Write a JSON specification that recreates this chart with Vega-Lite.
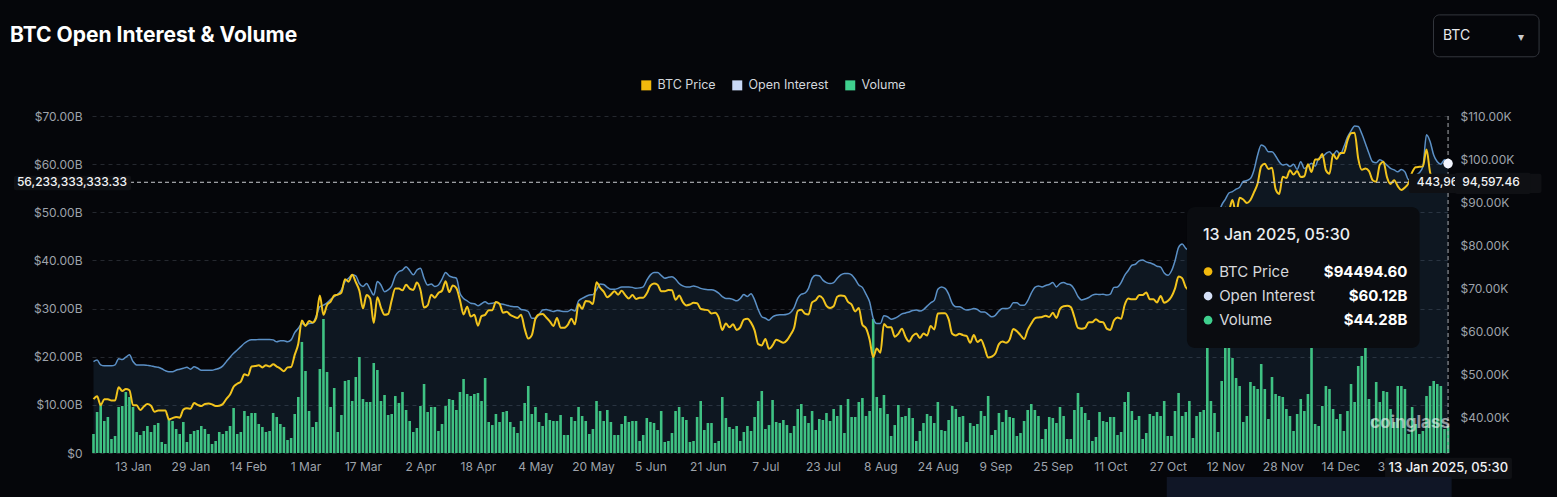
{
"$schema": "https://vega.github.io/schema/vega-lite/v6.json",
"width": 1358, "height": 337,
"autosize": {"type": "none"},
"padding": {"left": 92, "top": 116, "right": 107, "bottom": 44},
"background": "#05060a",
"title": {"text": "BTC Open Interest & Volume", "anchor": "start", "frame": "group", "dx": -82, "dy": 32, "offset": 0, "fontSize": 21, "fontWeight": "bold", "color": "#ffffff", "font": "Inter"},
"config": {"view": {"stroke": null}, "font": "Inter", "scale": {"continuousPadding": 0}},
"datasets": {"d": [
{"t":"2024-01-02","p":44200,"oi":19,"v":31.2},
{"t":"2024-01-03","p":44900,"oi":19.3,"v":67.3},
{"t":"2024-01-04","p":42800,"oi":18.3,"v":82.1},
{"t":"2024-01-05","p":44200,"oi":18.1,"v":52.5},
{"t":"2024-01-06","p":44200,"oi":18.1,"v":59.1},
{"t":"2024-01-07","p":43900,"oi":18.1,"v":23},
{"t":"2024-01-08","p":43900,"oi":18.3,"v":27.9},
{"t":"2024-01-09","p":47000,"oi":19.6,"v":75.5},
{"t":"2024-01-10","p":46100,"oi":19.4,"v":77.1},
{"t":"2024-01-11","p":46600,"oi":19.9,"v":100.1},
{"t":"2024-01-12","p":46300,"oi":20.4,"v":91.9},
{"t":"2024-01-13","p":42800,"oi":19,"v":75.5},
{"t":"2024-01-14","p":42800,"oi":18.3,"v":34.5},
{"t":"2024-01-15","p":41700,"oi":18.3,"v":29.5},
{"t":"2024-01-16","p":42500,"oi":18.3,"v":36.1},
{"t":"2024-01-17","p":43100,"oi":18.2,"v":44.3},
{"t":"2024-01-18","p":42700,"oi":18.1,"v":34.5},
{"t":"2024-01-19","p":41300,"oi":17.9,"v":45.9},
{"t":"2024-01-20","p":41600,"oi":17.8,"v":49.2},
{"t":"2024-01-21","p":41600,"oi":17.5,"v":18.1},
{"t":"2024-01-22","p":41600,"oi":17.1,"v":14.8},
{"t":"2024-01-23","p":39500,"oi":16.9,"v":55.8},
{"t":"2024-01-24","p":39800,"oi":16.9,"v":52.5},
{"t":"2024-01-25","p":40100,"oi":17.2,"v":39.4},
{"t":"2024-01-26","p":39900,"oi":17.4,"v":31.2},
{"t":"2024-01-27","p":41800,"oi":17.6,"v":50.9},
{"t":"2024-01-28","p":42100,"oi":17.8,"v":18.1},
{"t":"2024-01-29","p":42000,"oi":17.4,"v":31.2},
{"t":"2024-01-30","p":43300,"oi":17.9,"v":36.1},
{"t":"2024-01-31","p":42900,"oi":17.6,"v":37.7},
{"t":"2024-02-01","p":42600,"oi":17.2,"v":44.3},
{"t":"2024-02-02","p":43100,"oi":17.2,"v":39.4},
{"t":"2024-02-03","p":43200,"oi":17.2,"v":31.2},
{"t":"2024-02-04","p":43000,"oi":17.2,"v":14.8},
{"t":"2024-02-05","p":42600,"oi":17.4,"v":19.7},
{"t":"2024-02-06","p":42700,"oi":17.6,"v":34.5},
{"t":"2024-02-07","p":43100,"oi":18.1,"v":31.2},
{"t":"2024-02-08","p":44300,"oi":19,"v":36.1},
{"t":"2024-02-09","p":45300,"oi":19.9,"v":44.3},
{"t":"2024-02-10","p":47100,"oi":20.7,"v":73.8},
{"t":"2024-02-11","p":47800,"oi":21.4,"v":31.2},
{"t":"2024-02-12","p":48300,"oi":22.1,"v":34.5},
{"t":"2024-02-13","p":50000,"oi":22.8,"v":68.9},
{"t":"2024-02-14","p":49700,"oi":23.3,"v":60.7},
{"t":"2024-02-15","p":51800,"oi":23.5,"v":65.6},
{"t":"2024-02-16","p":51900,"oi":23.5,"v":65.6},
{"t":"2024-02-17","p":52100,"oi":23.6,"v":47.6},
{"t":"2024-02-18","p":51600,"oi":23.6,"v":42.7},
{"t":"2024-02-19","p":52100,"oi":23.6,"v":34.5},
{"t":"2024-02-20","p":51800,"oi":23.6,"v":36.1},
{"t":"2024-02-21","p":52300,"oi":23.5,"v":65.6},
{"t":"2024-02-22","p":51800,"oi":23.1,"v":59.1},
{"t":"2024-02-23","p":51300,"oi":23.3,"v":47.6},
{"t":"2024-02-24","p":50700,"oi":23.3,"v":42.7},
{"t":"2024-02-25","p":51600,"oi":23.1,"v":21.3},
{"t":"2024-02-26","p":51700,"oi":23.5,"v":24.6},
{"t":"2024-02-27","p":54500,"oi":25,"v":64},
{"t":"2024-02-28","p":57100,"oi":25.9,"v":91.9},
{"t":"2024-02-29","p":62500,"oi":26.9,"v":182.2},
{"t":"2024-03-01","p":61200,"oi":26.6,"v":134.6},
{"t":"2024-03-02","p":62400,"oi":26.9,"v":68.9},
{"t":"2024-03-03","p":62000,"oi":27,"v":42.7},
{"t":"2024-03-04","p":63100,"oi":28.5,"v":50.9},
{"t":"2024-03-05","p":68300,"oi":30.4,"v":137.8},
{"t":"2024-03-06","p":63800,"oi":30.7,"v":219.9},
{"t":"2024-03-07","p":66100,"oi":31.2,"v":132.9},
{"t":"2024-03-08","p":66900,"oi":31.9,"v":75.5},
{"t":"2024-03-09","p":68300,"oi":32.5,"v":106.7},
{"t":"2024-03-10","p":68500,"oi":33,"v":34.5},
{"t":"2024-03-11","p":69000,"oi":33.9,"v":62.4},
{"t":"2024-03-12","p":72100,"oi":35.6,"v":118.2},
{"t":"2024-03-13","p":71500,"oi":36.3,"v":119.8},
{"t":"2024-03-14","p":73100,"oi":37,"v":85.3},
{"t":"2024-03-15","p":71400,"oi":36.8,"v":124.7},
{"t":"2024-03-16","p":69400,"oi":35.2,"v":157.5},
{"t":"2024-03-17","p":65300,"oi":34.6,"v":88.6},
{"t":"2024-03-18","p":68400,"oi":35.2,"v":83.7},
{"t":"2024-03-19","p":67600,"oi":34,"v":83.7},
{"t":"2024-03-20","p":61900,"oi":32.8,"v":147.7},
{"t":"2024-03-21","p":67900,"oi":35.6,"v":136.2},
{"t":"2024-03-22","p":65500,"oi":34.9,"v":85.3},
{"t":"2024-03-23","p":63800,"oi":33.5,"v":95.2},
{"t":"2024-03-24","p":64000,"oi":33.9,"v":62.4},
{"t":"2024-03-25","p":67200,"oi":34.7,"v":64},
{"t":"2024-03-26","p":69900,"oi":36.8,"v":93.5},
{"t":"2024-03-27","p":69900,"oi":37.7,"v":82.1},
{"t":"2024-03-28","p":69500,"oi":38,"v":100.1},
{"t":"2024-03-29","p":70800,"oi":38.7,"v":70.6},
{"t":"2024-03-30","p":69900,"oi":37.9,"v":52.5},
{"t":"2024-03-31","p":69600,"oi":37,"v":34.5},
{"t":"2024-04-01","p":71300,"oi":38,"v":41},
{"t":"2024-04-02","p":69600,"oi":38.4,"v":77.1},
{"t":"2024-04-03","p":65500,"oi":36.3,"v":113.2},
{"t":"2024-04-04","p":66000,"oi":34.9,"v":67.3},
{"t":"2024-04-05","p":68500,"oi":35.1,"v":75.5},
{"t":"2024-04-06","p":67800,"oi":34.6,"v":75.5},
{"t":"2024-04-07","p":68900,"oi":34.9,"v":36.1},
{"t":"2024-04-08","p":69400,"oi":36.1,"v":47.6},
{"t":"2024-04-09","p":71600,"oi":37.5,"v":77.1},
{"t":"2024-04-10","p":69100,"oi":36.8,"v":88.6},
{"t":"2024-04-11","p":70600,"oi":36.5,"v":87},
{"t":"2024-04-12","p":70000,"oi":36.3,"v":70.6},
{"t":"2024-04-13","p":67200,"oi":33.2,"v":100.1},
{"t":"2024-04-14","p":63900,"oi":32.1,"v":121.4},
{"t":"2024-04-15","p":65700,"oi":31.6,"v":96.8},
{"t":"2024-04-16","p":63400,"oi":31.1,"v":93.5},
{"t":"2024-04-17","p":63800,"oi":31,"v":96.8},
{"t":"2024-04-18","p":61300,"oi":30.6,"v":98.5},
{"t":"2024-04-19","p":63500,"oi":31,"v":85.3},
{"t":"2024-04-20","p":63800,"oi":31.4,"v":123.1},
{"t":"2024-04-21","p":64900,"oi":31,"v":50.9},
{"t":"2024-04-22","p":64900,"oi":31.1,"v":45.9},
{"t":"2024-04-23","p":66800,"oi":31.3,"v":64},
{"t":"2024-04-24","p":66400,"oi":31,"v":50.9},
{"t":"2024-04-25","p":64300,"oi":30.9,"v":67.3},
{"t":"2024-04-26","p":64500,"oi":30.7,"v":68.9},
{"t":"2024-04-27","p":63800,"oi":30.5,"v":50.9},
{"t":"2024-04-28","p":63400,"oi":30.4,"v":42.7},
{"t":"2024-04-29","p":63100,"oi":30.4,"v":32.8},
{"t":"2024-04-30","p":63800,"oi":29.8,"v":52.5},
{"t":"2024-05-01","p":60600,"oi":29.7,"v":82.1},
{"t":"2024-05-02","p":58300,"oi":29.4,"v":109.9},
{"t":"2024-05-03","p":59100,"oi":28,"v":64},
{"t":"2024-05-04","p":62900,"oi":28,"v":75.5},
{"t":"2024-05-05","p":63900,"oi":28.7,"v":50.9},
{"t":"2024-05-06","p":64000,"oi":29.7,"v":44.3},
{"t":"2024-05-07","p":63200,"oi":29.8,"v":65.6},
{"t":"2024-05-08","p":62300,"oi":29.6,"v":54.2},
{"t":"2024-05-09","p":61200,"oi":29.4,"v":52.5},
{"t":"2024-05-10","p":63100,"oi":29.6,"v":52.5},
{"t":"2024-05-11","p":60800,"oi":29.5,"v":62.4},
{"t":"2024-05-12","p":60800,"oi":29.4,"v":29.5},
{"t":"2024-05-13","p":61500,"oi":29.4,"v":29.5},
{"t":"2024-05-14","p":62900,"oi":29.8,"v":59.1},
{"t":"2024-05-15","p":61600,"oi":29.5,"v":52.5},
{"t":"2024-05-16","p":66300,"oi":31.6,"v":75.5},
{"t":"2024-05-17","p":65200,"oi":32.1,"v":60.7},
{"t":"2024-05-18","p":67000,"oi":32.5,"v":52.5},
{"t":"2024-05-19","p":66900,"oi":32.8,"v":31.2},
{"t":"2024-05-20","p":66300,"oi":32.9,"v":39.4},
{"t":"2024-05-21","p":71400,"oi":33.9,"v":85.3},
{"t":"2024-05-22","p":70100,"oi":35.1,"v":68.9},
{"t":"2024-05-23","p":69200,"oi":35,"v":52.5},
{"t":"2024-05-24","p":67900,"oi":34.4,"v":70.6},
{"t":"2024-05-25","p":68500,"oi":34,"v":50.9},
{"t":"2024-05-26","p":69300,"oi":34,"v":29.5},
{"t":"2024-05-27","p":68500,"oi":34.2,"v":29.5},
{"t":"2024-05-28","p":69400,"oi":34.5,"v":47.6},
{"t":"2024-05-29","p":68400,"oi":34.5,"v":60.7},
{"t":"2024-05-30","p":67600,"oi":34.5,"v":50.9},
{"t":"2024-05-31","p":68400,"oi":34.4,"v":52.5},
{"t":"2024-06-01","p":67500,"oi":34.2,"v":52.5},
{"t":"2024-06-02","p":67800,"oi":34.3,"v":19.7},
{"t":"2024-06-03","p":67800,"oi":34.5,"v":29.5},
{"t":"2024-06-04","p":68800,"oi":35.9,"v":57.4},
{"t":"2024-06-05","p":70600,"oi":37,"v":50.9},
{"t":"2024-06-06","p":71100,"oi":37.5,"v":49.2},
{"t":"2024-06-07","p":70800,"oi":37.5,"v":37.7},
{"t":"2024-06-08","p":69300,"oi":36.9,"v":68.9},
{"t":"2024-06-09","p":69300,"oi":36.3,"v":18.1},
{"t":"2024-06-10","p":69600,"oi":36.5,"v":19.7},
{"t":"2024-06-11","p":69500,"oi":36.6,"v":32.8},
{"t":"2024-06-12","p":67300,"oi":36.1,"v":68.9},
{"t":"2024-06-13","p":68300,"oi":35.2,"v":75.5},
{"t":"2024-06-14","p":66800,"oi":34.7,"v":59.1},
{"t":"2024-06-15","p":66000,"oi":34.5,"v":54.2},
{"t":"2024-06-16","p":66200,"oi":34.5,"v":18.1},
{"t":"2024-06-17","p":66600,"oi":34.7,"v":19.7},
{"t":"2024-06-18","p":66500,"oi":34.5,"v":59.1},
{"t":"2024-06-19","p":65200,"oi":34.2,"v":85.3},
{"t":"2024-06-20","p":65000,"oi":34,"v":37.7},
{"t":"2024-06-21","p":64900,"oi":33.9,"v":49.2},
{"t":"2024-06-22","p":64100,"oi":33.9,"v":49.2},
{"t":"2024-06-23","p":64300,"oi":33.7,"v":16.4},
{"t":"2024-06-24","p":63200,"oi":33.2,"v":19.7},
{"t":"2024-06-25","p":60300,"oi":32.5,"v":91.9},
{"t":"2024-06-26","p":61800,"oi":32.1,"v":57.4},
{"t":"2024-06-27","p":60900,"oi":32.1,"v":42.7},
{"t":"2024-06-28","p":61600,"oi":31.9,"v":39.4},
{"t":"2024-06-29","p":60300,"oi":31.6,"v":44.3},
{"t":"2024-06-30","p":60900,"oi":32.1,"v":19.7},
{"t":"2024-07-01","p":62700,"oi":32.9,"v":34.5},
{"t":"2024-07-02","p":62900,"oi":32.5,"v":44.3},
{"t":"2024-07-03","p":62000,"oi":33.1,"v":36.1},
{"t":"2024-07-04","p":60200,"oi":31.8,"v":59.1},
{"t":"2024-07-05","p":57000,"oi":29.8,"v":85.3},
{"t":"2024-07-06","p":56700,"oi":28.3,"v":101.7},
{"t":"2024-07-07","p":58200,"oi":28,"v":39.4},
{"t":"2024-07-08","p":55900,"oi":27.6,"v":45.9},
{"t":"2024-07-09","p":56700,"oi":28.3,"v":87},
{"t":"2024-07-10","p":58000,"oi":28.6,"v":50.9},
{"t":"2024-07-11","p":57700,"oi":28.7,"v":49.2},
{"t":"2024-07-12","p":57300,"oi":28.7,"v":54.2},
{"t":"2024-07-13","p":57900,"oi":28.8,"v":45.9},
{"t":"2024-07-14","p":59200,"oi":29.2,"v":32.8},
{"t":"2024-07-15","p":60800,"oi":30.2,"v":44.3},
{"t":"2024-07-16","p":64700,"oi":32.1,"v":72.2},
{"t":"2024-07-17","p":65000,"oi":33,"v":80.4},
{"t":"2024-07-18","p":64100,"oi":33.2,"v":60.7},
{"t":"2024-07-19","p":63900,"oi":34.2,"v":49.2},
{"t":"2024-07-20","p":66700,"oi":36.3,"v":68.9},
{"t":"2024-07-21","p":67200,"oi":36.9,"v":37.7},
{"t":"2024-07-22","p":68200,"oi":36.8,"v":55.8},
{"t":"2024-07-23","p":67600,"oi":35.9,"v":54.2},
{"t":"2024-07-24","p":65900,"oi":35.4,"v":65.6},
{"t":"2024-07-25","p":65400,"oi":35.2,"v":52.5},
{"t":"2024-07-26","p":65800,"oi":35.4,"v":72.2},
{"t":"2024-07-27","p":68000,"oi":36.3,"v":60.7},
{"t":"2024-07-28","p":68300,"oi":37,"v":78.8},
{"t":"2024-07-29","p":68200,"oi":37.3,"v":32.8},
{"t":"2024-07-30","p":66800,"oi":37.3,"v":88.6},
{"t":"2024-07-31","p":66200,"oi":37,"v":59.1},
{"t":"2024-08-01","p":64600,"oi":36.1,"v":59.1},
{"t":"2024-08-02","p":65400,"oi":34.9,"v":83.7},
{"t":"2024-08-03","p":61500,"oi":34.4,"v":90.3},
{"t":"2024-08-04","p":60700,"oi":33,"v":60.7},
{"t":"2024-08-05","p":58100,"oi":31.4,"v":68.9},
{"t":"2024-08-06","p":54000,"oi":28,"v":219.9},
{"t":"2024-08-07","p":56000,"oi":26.9,"v":91.9},
{"t":"2024-08-08","p":55000,"oi":26.9,"v":73.8},
{"t":"2024-08-09","p":61700,"oi":28.5,"v":95.2},
{"t":"2024-08-10","p":60900,"oi":28.3,"v":64},
{"t":"2024-08-11","p":60900,"oi":27.8,"v":27.9},
{"t":"2024-08-12","p":58700,"oi":28,"v":45.9},
{"t":"2024-08-13","p":59400,"oi":28.4,"v":78.8},
{"t":"2024-08-14","p":60600,"oi":28.9,"v":59.1},
{"t":"2024-08-15","p":58700,"oi":29.1,"v":60.7},
{"t":"2024-08-16","p":57600,"oi":29.3,"v":73.8},
{"t":"2024-08-17","p":58900,"oi":29.6,"v":57.4},
{"t":"2024-08-18","p":59500,"oi":29.7,"v":19.7},
{"t":"2024-08-19","p":58400,"oi":29.5,"v":36.1},
{"t":"2024-08-20","p":59500,"oi":29.8,"v":49.2},
{"t":"2024-08-21","p":59000,"oi":30.5,"v":64},
{"t":"2024-08-22","p":61200,"oi":31.2,"v":60.7},
{"t":"2024-08-23","p":60400,"oi":31.7,"v":49.2},
{"t":"2024-08-24","p":64100,"oi":34,"v":83.7},
{"t":"2024-08-25","p":64200,"oi":34.5,"v":37.7},
{"t":"2024-08-26","p":64200,"oi":34.2,"v":36.1},
{"t":"2024-08-27","p":62800,"oi":33,"v":54.2},
{"t":"2024-08-28","p":59400,"oi":31.1,"v":77.1},
{"t":"2024-08-29","p":59000,"oi":30.4,"v":72.2},
{"t":"2024-08-30","p":59400,"oi":30.4,"v":59.1},
{"t":"2024-08-31","p":59100,"oi":30,"v":60.7},
{"t":"2024-09-01","p":58900,"oi":29.7,"v":18.1},
{"t":"2024-09-02","p":57300,"oi":29.8,"v":49.2},
{"t":"2024-09-03","p":59100,"oi":30,"v":44.3},
{"t":"2024-09-04","p":57500,"oi":29.8,"v":47.6},
{"t":"2024-09-05","p":58000,"oi":29.3,"v":68.9},
{"t":"2024-09-06","p":56200,"oi":29.3,"v":60.7},
{"t":"2024-09-07","p":53900,"oi":28.8,"v":93.5},
{"t":"2024-09-08","p":54100,"oi":28.3,"v":29.5},
{"t":"2024-09-09","p":54800,"oi":28.6,"v":37.7},
{"t":"2024-09-10","p":57000,"oi":29.5,"v":65.6},
{"t":"2024-09-11","p":57600,"oi":30,"v":50.9},
{"t":"2024-09-12","p":57300,"oi":30,"v":70.6},
{"t":"2024-09-13","p":58100,"oi":30.2,"v":59.1},
{"t":"2024-09-14","p":60500,"oi":31.2,"v":57.4},
{"t":"2024-09-15","p":60000,"oi":31.2,"v":27.9},
{"t":"2024-09-16","p":59100,"oi":30.7,"v":32.8},
{"t":"2024-09-17","p":58200,"oi":30.7,"v":52.5},
{"t":"2024-09-18","p":60300,"oi":31.6,"v":70.6},
{"t":"2024-09-19","p":61800,"oi":33.2,"v":80.4},
{"t":"2024-09-20","p":63000,"oi":34.4,"v":70.6},
{"t":"2024-09-21","p":63200,"oi":34.7,"v":60.7},
{"t":"2024-09-22","p":63300,"oi":34.5,"v":23},
{"t":"2024-09-23","p":63600,"oi":34.8,"v":39.4},
{"t":"2024-09-24","p":63300,"oi":35,"v":59.1},
{"t":"2024-09-25","p":64300,"oi":35.4,"v":57.4},
{"t":"2024-09-26","p":63100,"oi":34.5,"v":49.2},
{"t":"2024-09-27","p":65200,"oi":35.2,"v":75.5},
{"t":"2024-09-28","p":65800,"oi":35.4,"v":60.7},
{"t":"2024-09-29","p":65900,"oi":35.1,"v":23},
{"t":"2024-09-30","p":65600,"oi":34.9,"v":23},
{"t":"2024-10-01","p":63300,"oi":34,"v":70.6},
{"t":"2024-10-02","p":60800,"oi":32.5,"v":98.5},
{"t":"2024-10-03","p":60600,"oi":31.8,"v":75.5},
{"t":"2024-10-04","p":60800,"oi":32,"v":65.6},
{"t":"2024-10-05","p":62100,"oi":32.3,"v":54.2},
{"t":"2024-10-06","p":62100,"oi":32.8,"v":19.7},
{"t":"2024-10-07","p":62800,"oi":33,"v":26.3},
{"t":"2024-10-08","p":62200,"oi":32.9,"v":67.3},
{"t":"2024-10-09","p":62100,"oi":33,"v":52.5},
{"t":"2024-10-10","p":60600,"oi":32.8,"v":50.9},
{"t":"2024-10-11","p":60300,"oi":33,"v":59.1},
{"t":"2024-10-12","p":62500,"oi":34.4,"v":59.1},
{"t":"2024-10-13","p":63200,"oi":34.5,"v":29.5},
{"t":"2024-10-14","p":62900,"oi":35.4,"v":34.5},
{"t":"2024-10-15","p":66100,"oi":36.9,"v":83.7},
{"t":"2024-10-16","p":67600,"oi":37.9,"v":100.1},
{"t":"2024-10-17","p":67400,"oi":39,"v":68.9},
{"t":"2024-10-18","p":67400,"oi":39.2,"v":54.2},
{"t":"2024-10-19","p":68400,"oi":39.9,"v":60.7},
{"t":"2024-10-20","p":68400,"oi":40.1,"v":23},
{"t":"2024-10-21","p":69000,"oi":39.7,"v":32.8},
{"t":"2024-10-22","p":67400,"oi":39.5,"v":64},
{"t":"2024-10-23","p":67400,"oi":39.2,"v":60.7},
{"t":"2024-10-24","p":66700,"oi":38.8,"v":67.3},
{"t":"2024-10-25","p":68200,"oi":38.6,"v":60.7},
{"t":"2024-10-26","p":66600,"oi":37.4,"v":85.3},
{"t":"2024-10-27","p":67000,"oi":36.9,"v":27.9},
{"t":"2024-10-28","p":68000,"oi":37.8,"v":27.9},
{"t":"2024-10-29","p":69900,"oi":39.9,"v":68.9},
{"t":"2024-10-30","p":72700,"oi":42.7,"v":98.5},
{"t":"2024-10-31","p":72300,"oi":43.4,"v":60.7},
{"t":"2024-11-01","p":70200,"oi":42.5,"v":67.3},
{"t":"2024-11-02","p":69500,"oi":42,"v":85.3},
{"t":"2024-11-03","p":69300,"oi":41.5,"v":24.6},
{"t":"2024-11-04","p":68700,"oi":41.8,"v":60.7},
{"t":"2024-11-05","p":67800,"oi":42.5,"v":67.3},
{"t":"2024-11-06","p":69400,"oi":45,"v":70.6},
{"t":"2024-11-07","p":75600,"oi":46.5,"v":180.5},
{"t":"2024-11-08","p":75900,"oi":47.5,"v":85.3},
{"t":"2024-11-09","p":76500,"oi":48.5,"v":65.6},
{"t":"2024-11-10","p":76700,"oi":49.5,"v":34.5},
{"t":"2024-11-11","p":80400,"oi":51.5,"v":118.2},
{"t":"2024-11-12","p":88700,"oi":52.7,"v":196.9},
{"t":"2024-11-13","p":88300,"oi":54,"v":180.5},
{"t":"2024-11-14","p":90500,"oi":54.3,"v":155.9},
{"t":"2024-11-15","p":87300,"oi":54.8,"v":123.1},
{"t":"2024-11-16","p":91000,"oi":55.2,"v":109.9},
{"t":"2024-11-17","p":90600,"oi":56.4,"v":50.9},
{"t":"2024-11-18","p":89800,"oi":56.6,"v":60.7},
{"t":"2024-11-19","p":90500,"oi":57,"v":116.5},
{"t":"2024-11-20","p":92300,"oi":58.8,"v":109.9},
{"t":"2024-11-21","p":94300,"oi":61.9,"v":105},
{"t":"2024-11-22","p":98300,"oi":64,"v":146},
{"t":"2024-11-23","p":98900,"oi":63.6,"v":105},
{"t":"2024-11-24","p":97700,"oi":62.6,"v":55.8},
{"t":"2024-11-25","p":98000,"oi":62.6,"v":124.7},
{"t":"2024-11-26","p":93000,"oi":61.7,"v":96.8},
{"t":"2024-11-27","p":91900,"oi":60.5,"v":93.5},
{"t":"2024-11-28","p":95900,"oi":59.8,"v":91.9},
{"t":"2024-11-29","p":95600,"oi":60,"v":72.2},
{"t":"2024-11-30","p":97400,"oi":59.5,"v":60.7},
{"t":"2024-12-01","p":96400,"oi":60,"v":36.1},
{"t":"2024-12-02","p":97200,"oi":58.9,"v":64},
{"t":"2024-12-03","p":95800,"oi":60.5,"v":88.6},
{"t":"2024-12-04","p":96000,"oi":59.1,"v":68.9},
{"t":"2024-12-05","p":98800,"oi":59.6,"v":96.8},
{"t":"2024-12-06","p":97000,"oi":60.2,"v":180.5},
{"t":"2024-12-07","p":99900,"oi":59.6,"v":47.6},
{"t":"2024-12-08","p":99900,"oi":61.2,"v":44.3},
{"t":"2024-12-09","p":101200,"oi":61.5,"v":77.1},
{"t":"2024-12-10","p":97400,"oi":62.2,"v":109.9},
{"t":"2024-12-11","p":96600,"oi":62.6,"v":105},
{"t":"2024-12-12","p":101100,"oi":61.9,"v":72.2},
{"t":"2024-12-13","p":100000,"oi":62.8,"v":55.8},
{"t":"2024-12-14","p":101400,"oi":62,"v":64},
{"t":"2024-12-15","p":101400,"oi":63.6,"v":36.1},
{"t":"2024-12-16","p":104300,"oi":65.6,"v":68.9},
{"t":"2024-12-17","p":106000,"oi":66.9,"v":113.2},
{"t":"2024-12-18","p":106100,"oi":67.9,"v":83.7},
{"t":"2024-12-19","p":100100,"oi":67.8,"v":142.8},
{"t":"2024-12-20","p":97500,"oi":66.3,"v":159.2},
{"t":"2024-12-21","p":97800,"oi":64.3,"v":172.3},
{"t":"2024-12-22","p":97200,"oi":62.2,"v":88.6},
{"t":"2024-12-23","p":95100,"oi":60.5,"v":55.8},
{"t":"2024-12-24","p":94700,"oi":60.3,"v":116.5},
{"t":"2024-12-25","p":98700,"oi":60.9,"v":83.7},
{"t":"2024-12-26","p":99400,"oi":60.5,"v":101.7},
{"t":"2024-12-27","p":95800,"oi":59.8,"v":100.1},
{"t":"2024-12-28","p":94200,"oi":59.1,"v":72.2},
{"t":"2024-12-29","p":95100,"oi":58.8,"v":50.9},
{"t":"2024-12-30","p":93700,"oi":58.4,"v":109.9},
{"t":"2024-12-31","p":92800,"oi":58.9,"v":109.9},
{"t":"2025-01-01","p":93400,"oi":58.4,"v":105},
{"t":"2025-01-02","p":94400,"oi":56.8,"v":31.2},
{"t":"2025-01-03","p":96900,"oi":57,"v":75.5},
{"t":"2025-01-04","p":98100,"oi":57.7,"v":47.6},
{"t":"2025-01-05","p":98200,"oi":58.2,"v":31.2},
{"t":"2025-01-06","p":98300,"oi":59.5,"v":36.1},
{"t":"2025-01-07","p":102200,"oi":66.1,"v":93.5},
{"t":"2025-01-08","p":96900,"oi":64.7,"v":109.9},
{"t":"2025-01-09","p":95000,"oi":61.9,"v":118.2},
{"t":"2025-01-10","p":92500,"oi":60.5,"v":113.2},
{"t":"2025-01-11","p":94700,"oi":60,"v":109.9},
{"t":"2025-01-12","p":94500,"oi":60.9,"v":39.4},
{"t":"2025-01-13","p":94494.6,"oi":60.12,"v":44.28}
]},
"resolve": {"scale": {"y": "independent"}},
"layer": [
{"data": {"name": "d"}, "transform": [{"filter": "false"}],
 "mark": {"type": "square", "opacity": 1},
 "encoding": {"color": {"field": "s", "type": "nominal",
   "scale": {"domain": ["BTC Price", "Open Interest", "Volume"], "range": ["#f2b90d", "#c9d9f6", "#3fd08e"]},
   "legend": {"orient": "none", "legendX": 548, "legendY": -37, "direction": "horizontal", "title": null, "symbolType": "square", "symbolSize": 100, "symbolStrokeWidth": 0, "symbolOpacity": 1, "labelColor": "#d3d6dc", "labelFontSize": 12.5, "labelFont": "Inter", "labelOffset": 5, "columnPadding": 15, "padding": 0}}}},
{"data": {"name": "d"},
 "mark": {"type": "area", "interpolate": "monotone", "color": "#4a7db0", "opacity": 0.14},
 "encoding": {
  "x": {"field": "t", "type": "temporal", "scale": {"type": "utc", "domain": [1704117600000, 1736773200000], "padding": 0}},
  "y": {"field": "oi", "type": "quantitative", "scale": {"domain": [0, 70], "nice": false}, "axis": null}}},
{"data": {"name": "d"},
 "mark": {"type": "bar", "size": 2.6, "color": "#3fc283"},
 "encoding": {
  "x": {"field": "t", "type": "temporal", "scale": {"type": "utc", "domain": [1704117600000, 1736773200000], "padding": 0}},
  "y": {"field": "v", "type": "quantitative", "scale": {"domain": [0, 553], "nice": false}, "axis": null}}},
{"data": {"name": "d"},
 "mark": {"type": "line", "interpolate": "monotone", "color": "#5b90c6", "strokeWidth": 1.5},
 "encoding": {
  "x": {"field": "t", "type": "temporal", "scale": {"type": "utc", "domain": [1704117600000, 1736773200000], "padding": 0},
   "axis": {"title": null, "format": "%-d %b", "values": [1705104000000, 1706486400000, 1707868800000, 1709251200000, 1710633600000, 1712016000000, 1713398400000, 1714780800000, 1716163200000, 1717545600000, 1718928000000, 1720310400000, 1721692800000, 1723075200000, 1724457600000, 1725840000000, 1727222400000, 1728604800000, 1729987200000, 1731369600000, 1732752000000, 1734134400000, 1735516800000],
    "grid": false, "domain": false, "ticks": false, "tickSize": 0, "labelPadding": 8, "labelColor": "#9ea3ab", "labelFontSize": 12, "labelFont": "Inter", "labelOverlap": false, "labelFlush": false}},
  "y": {"field": "oi", "type": "quantitative", "scale": {"domain": [0, 70], "nice": false},
   "axis": {"orient": "left", "title": null, "values": [0,10,20,30,40,50,60,70], "labelExpr": "datum.value == 0 ? '$0' : '$' + format(datum.value, '.2f') + 'B'", "grid": true, "gridColor": "#25282f", "gridDash": [4, 4], "domain": false, "ticks": false, "tickSize": 0, "labelPadding": 10, "labelColor": "#9ea3ab", "labelFontSize": 12, "labelFont": "Inter"}}}},
{"data": {"name": "d"},
 "mark": {"type": "line", "interpolate": "monotone", "color": "#f2c41d", "strokeWidth": 2},
 "encoding": {
  "x": {"field": "t", "type": "temporal", "scale": {"type": "utc", "domain": [1704117600000, 1736773200000], "padding": 0}},
  "y": {"field": "p", "type": "quantitative", "scale": {"domain": [31710, 110000], "nice": false, "zero": false},
   "axis": {"orient": "right", "title": null, "values": [40000,50000,60000,70000,80000,90000,100000,110000], "labelExpr": "'$' + format(datum.value / 1000, '.2f') + 'K'", "grid": false, "domain": false, "ticks": false, "tickSize": 0, "labelPadding": 10, "labelColor": "#9ea3ab", "labelFontSize": 12, "labelFont": "Inter"}}}},
{"data": {"values": [{}]},
 "mark": {"type": "rule", "color": "#a9abb0", "strokeDash": [4, 3], "strokeWidth": 1},
 "encoding": {"x": {"datum": 1736726400000, "type": "temporal", "scale": {"type": "utc", "domain": [1704117600000, 1736773200000], "padding": 0}}}},
{"data": {"values": [{}]},
 "mark": {"type": "rule", "color": "#c9cbd0", "strokeDash": [4, 3], "strokeWidth": 1},
 "encoding": {"y": {"datum": 56.233, "type": "quantitative", "scale": {"domain": [0, 70], "nice": false}, "axis": null}}},
{"data": {"values": [{}]},
 "mark": {"type": "circle", "size": 90, "color": "#f3f6ff", "opacity": 1},
 "encoding": {"x": {"datum": 1736726400000, "type": "temporal", "scale": {"type": "utc", "domain": [1704117600000, 1736773200000], "padding": 0}},
  "y": {"datum": 60.12, "type": "quantitative", "scale": {"domain": [0, 70], "nice": false}, "axis": null}}},
{"data": {"values": [{}]},
 "mark": {"type": "rect", "color": "#0a0c10", "cornerRadius": 8},
 "encoding": {"x": {"datum": 1730448000000, "type": "temporal", "scale": {"type": "utc", "domain": [1704117600000, 1736773200000], "padding": 0}},
  "x2": {"datum": 1736042400000},
  "y": {"datum": 51.1, "type": "quantitative", "scale": {"domain": [0, 70], "nice": false}, "axis": null},
  "y2": {"datum": 21.8}}},
{"data": {"values": [{}]},
 "mark": {"type": "text", "text": "13 Jan 2025, 05:30", "align": "left", "baseline": "middle", "fontSize": 16, "fontWeight": 500, "color": "#eceef1", "font": "Inter"},
 "encoding": {"x": {"datum": 1730833200000, "type": "temporal", "scale": {"type": "utc", "domain": [1704117600000, 1736773200000], "padding": 0}},
  "y": {"datum": 45.28, "type": "quantitative", "scale": {"domain": [0, 70], "nice": false}, "axis": null}}},
{"data": {"values": [{}]},
 "mark": {"type": "circle", "size": 75, "color": "#f2b90d", "opacity": 1},
 "encoding": {"x": {"datum": 1730955600000, "type": "temporal", "scale": {"type": "utc", "domain": [1704117600000, 1736773200000], "padding": 0}},
  "y": {"datum": 37.7, "type": "quantitative", "scale": {"domain": [0, 70], "nice": false}, "axis": null}}},
{"data": {"values": [{}]},
 "mark": {"type": "circle", "size": 75, "color": "#d5e1f8", "opacity": 1},
 "encoding": {"x": {"datum": 1730955600000, "type": "temporal", "scale": {"type": "utc", "domain": [1704117600000, 1736773200000], "padding": 0}},
  "y": {"datum": 32.6, "type": "quantitative", "scale": {"domain": [0, 70], "nice": false}, "axis": null}}},
{"data": {"values": [{}]},
 "mark": {"type": "circle", "size": 75, "color": "#3fd08e", "opacity": 1},
 "encoding": {"x": {"datum": 1730955600000, "type": "temporal", "scale": {"type": "utc", "domain": [1704117600000, 1736773200000], "padding": 0}},
  "y": {"datum": 27.6, "type": "quantitative", "scale": {"domain": [0, 70], "nice": false}, "axis": null}}},
{"data": {"values": [{}]},
 "mark": {"type": "text", "text": "BTC Price", "align": "left", "baseline": "middle", "fontSize": 15, "color": "#d6d8dc", "font": "Inter"},
 "encoding": {"x": {"datum": 1731222000000, "type": "temporal", "scale": {"type": "utc", "domain": [1704117600000, 1736773200000], "padding": 0}},
  "y": {"datum": 37.7, "type": "quantitative", "scale": {"domain": [0, 70], "nice": false}, "axis": null}}},
{"data": {"values": [{}]},
 "mark": {"type": "text", "text": "Open Interest", "align": "left", "baseline": "middle", "fontSize": 15, "color": "#d6d8dc", "font": "Inter"},
 "encoding": {"x": {"datum": 1731222000000, "type": "temporal", "scale": {"type": "utc", "domain": [1704117600000, 1736773200000], "padding": 0}},
  "y": {"datum": 32.6, "type": "quantitative", "scale": {"domain": [0, 70], "nice": false}, "axis": null}}},
{"data": {"values": [{}]},
 "mark": {"type": "text", "text": "Volume", "align": "left", "baseline": "middle", "fontSize": 15, "color": "#d6d8dc", "font": "Inter"},
 "encoding": {"x": {"datum": 1731222000000, "type": "temporal", "scale": {"type": "utc", "domain": [1704117600000, 1736773200000], "padding": 0}},
  "y": {"datum": 27.6, "type": "quantitative", "scale": {"domain": [0, 70], "nice": false}, "axis": null}}},
{"data": {"values": [{}]},
 "mark": {"type": "text", "text": "$94494.60", "align": "right", "baseline": "middle", "fontSize": 15, "fontWeight": "bold", "color": "#ffffff", "font": "Inter"},
 "encoding": {"x": {"datum": 1735750800000, "type": "temporal", "scale": {"type": "utc", "domain": [1704117600000, 1736773200000], "padding": 0}},
  "y": {"datum": 37.7, "type": "quantitative", "scale": {"domain": [0, 70], "nice": false}, "axis": null}}},
{"data": {"values": [{}]},
 "mark": {"type": "text", "text": "$60.12B", "align": "right", "baseline": "middle", "fontSize": 15, "fontWeight": "bold", "color": "#ffffff", "font": "Inter"},
 "encoding": {"x": {"datum": 1735750800000, "type": "temporal", "scale": {"type": "utc", "domain": [1704117600000, 1736773200000], "padding": 0}},
  "y": {"datum": 32.6, "type": "quantitative", "scale": {"domain": [0, 70], "nice": false}, "axis": null}}},
{"data": {"values": [{}]},
 "mark": {"type": "text", "text": "$44.28B", "align": "right", "baseline": "middle", "fontSize": 15, "fontWeight": "bold", "color": "#ffffff", "font": "Inter"},
 "encoding": {"x": {"datum": 1735750800000, "type": "temporal", "scale": {"type": "utc", "domain": [1704117600000, 1736773200000], "padding": 0}},
  "y": {"datum": 27.6, "type": "quantitative", "scale": {"domain": [0, 70], "nice": false}, "axis": null}}},
{"data": {"values": [{}]},
 "mark": {"type": "rect", "color": "#0f1014", "cornerRadius": 2},
 "encoding": {"x": {"datum": 1702242000000, "type": "temporal", "scale": {"type": "utc", "domain": [1704117600000, 1736773200000], "padding": 0}},
  "x2": {"datum": 1705057200000},
  "y": {"datum": 57.6, "type": "quantitative", "scale": {"domain": [0, 70], "nice": false}, "axis": null},
  "y2": {"datum": 54.6}}},
{"data": {"values": [{}]},
 "mark": {"type": "text", "text": "56,233,333,333.33", "align": "center", "baseline": "middle", "fontSize": 12, "fontWeight": 500, "color": "#f2f3f5", "font": "Inter"},
 "encoding": {"x": {"datum": 1703635200000, "type": "temporal", "scale": {"type": "utc", "domain": [1704117600000, 1736773200000], "padding": 0}},
  "y": {"datum": 56.2, "type": "quantitative", "scale": {"domain": [0, 70], "nice": false}, "axis": null}}},
{"data": {"values": [{}]},
 "mark": {"type": "rect", "color": "#0f1014", "cornerRadius": 2},
 "encoding": {"x": {"datum": 1735786800000, "type": "temporal", "scale": {"type": "utc", "domain": [1704117600000, 1736773200000], "padding": 0}},
  "x2": {"datum": 1738972800000},
  "y": {"datum": 58.0, "type": "quantitative", "scale": {"domain": [0, 70], "nice": false}, "axis": null},
  "y2": {"datum": 54.0}}},
{"data": {"values": [{}]},
 "mark": {"type": "text", "text": "443,96", "align": "left", "baseline": "middle", "fontSize": 12, "fontWeight": 500, "color": "#f2f3f5", "font": "Inter"},
 "encoding": {"x": {"datum": 1735974000000, "type": "temporal", "scale": {"type": "utc", "domain": [1704117600000, 1736773200000], "padding": 0}},
  "y": {"datum": 56.2, "type": "quantitative", "scale": {"domain": [0, 70], "nice": false}, "axis": null}}},
{"data": {"values": [{}]},
 "mark": {"type": "rect", "color": "#0f1014", "cornerRadius": 2},
 "encoding": {"x": {"datum": 1736892000000, "type": "temporal", "scale": {"type": "utc", "domain": [1704117600000, 1736773200000], "padding": 0}},
  "x2": {"datum": 1738713600000},
  "y": {"datum": 58.2, "type": "quantitative", "scale": {"domain": [0, 70], "nice": false}, "axis": null},
  "y2": {"datum": 53.8}}},
{"data": {"values": [{}]},
 "mark": {"type": "text", "text": "94,597.46", "align": "left", "baseline": "middle", "fontSize": 12, "fontWeight": 500, "color": "#f2f3f5", "font": "Inter"},
 "encoding": {"x": {"datum": 1737064800000, "type": "temporal", "scale": {"type": "utc", "domain": [1704117600000, 1736773200000], "padding": 0}},
  "y": {"datum": 56.2, "type": "quantitative", "scale": {"domain": [0, 70], "nice": false}, "axis": null}}},
{"data": {"values": [{}]},
 "mark": {"type": "rect", "color": "#0f1014", "cornerRadius": 2},
 "encoding": {"x": {"datum": 1735210800000, "type": "temporal", "scale": {"type": "utc", "domain": [1704117600000, 1736773200000], "padding": 0}},
  "x2": {"datum": 1738263600000},
  "y": {"datum": -1.0, "type": "quantitative", "scale": {"domain": [0, 70], "nice": false}, "axis": null},
  "y2": {"datum": -5.4}}},
{"data": {"values": [{}]},
 "mark": {"type": "text", "text": "13 Jan 2025, 05:30", "align": "center", "baseline": "middle", "fontSize": 13, "fontWeight": 500, "color": "#f2f3f5", "font": "Inter"},
 "encoding": {"x": {"datum": 1736733600000, "type": "temporal", "scale": {"type": "utc", "domain": [1704117600000, 1736773200000], "padding": 0}},
  "y": {"datum": -3.1, "type": "quantitative", "scale": {"domain": [0, 70], "nice": false}, "axis": null}}},
{"data": {"values": [{}]},
 "mark": {"type": "text", "text": "coinglass", "align": "left", "baseline": "middle", "fontSize": 17, "fontWeight": "bold", "color": "#ffffff", "opacity": 0.55, "font": "Inter"},
 "encoding": {"x": {"datum": 1734850800000, "type": "temporal", "scale": {"type": "utc", "domain": [1704117600000, 1736773200000], "padding": 0}},
  "y": {"datum": 6.23, "type": "quantitative", "scale": {"domain": [0, 70], "nice": false}, "axis": null}}},
{"data": {"values": [{}]},
 "mark": {"type": "rect", "color": "#101626"},
 "encoding": {"x": {"datum": 1729962000000, "type": "temporal", "scale": {"type": "utc", "domain": [1704117600000, 1736773200000], "padding": 0}},
  "x2": {"datum": 1736812800000},
  "y": {"datum": -5.0, "type": "quantitative", "scale": {"domain": [0, 70], "nice": false}, "axis": null},
  "y2": {"datum": -9.2}}},
{"data": {"values": [{}]},
 "mark": {"type": "rect", "fill": "#05060a", "stroke": "#34373e", "strokeWidth": 1, "cornerRadius": 6},
 "encoding": {"x": {"datum": 1736377200000, "type": "temporal", "scale": {"type": "utc", "domain": [1704117600000, 1736773200000], "padding": 0}},
  "x2": {"datum": 1738915200000},
  "y": {"datum": 91.0, "type": "quantitative", "scale": {"domain": [0, 70], "nice": false}, "axis": null},
  "y2": {"datum": 82.3}}},
{"data": {"values": [{}]},
 "mark": {"type": "text", "text": "BTC", "align": "left", "baseline": "middle", "fontSize": 14, "color": "#e8e9ec", "font": "Inter"},
 "encoding": {"x": {"datum": 1736604000000, "type": "temporal", "scale": {"type": "utc", "domain": [1704117600000, 1736773200000], "padding": 0}},
  "y": {"datum": 86.7, "type": "quantitative", "scale": {"domain": [0, 70], "nice": false}, "axis": null}}},
{"data": {"values": [{}]},
 "mark": {"type": "text", "text": "▾", "align": "center", "baseline": "middle", "fontSize": 12, "color": "#c9cbd0", "font": "DejaVu Sans"},
 "encoding": {"x": {"datum": 1738479600000, "type": "temporal", "scale": {"type": "utc", "domain": [1704117600000, 1736773200000], "padding": 0}},
  "y": {"datum": 86.5, "type": "quantitative", "scale": {"domain": [0, 70], "nice": false}, "axis": null}}}
]
}
